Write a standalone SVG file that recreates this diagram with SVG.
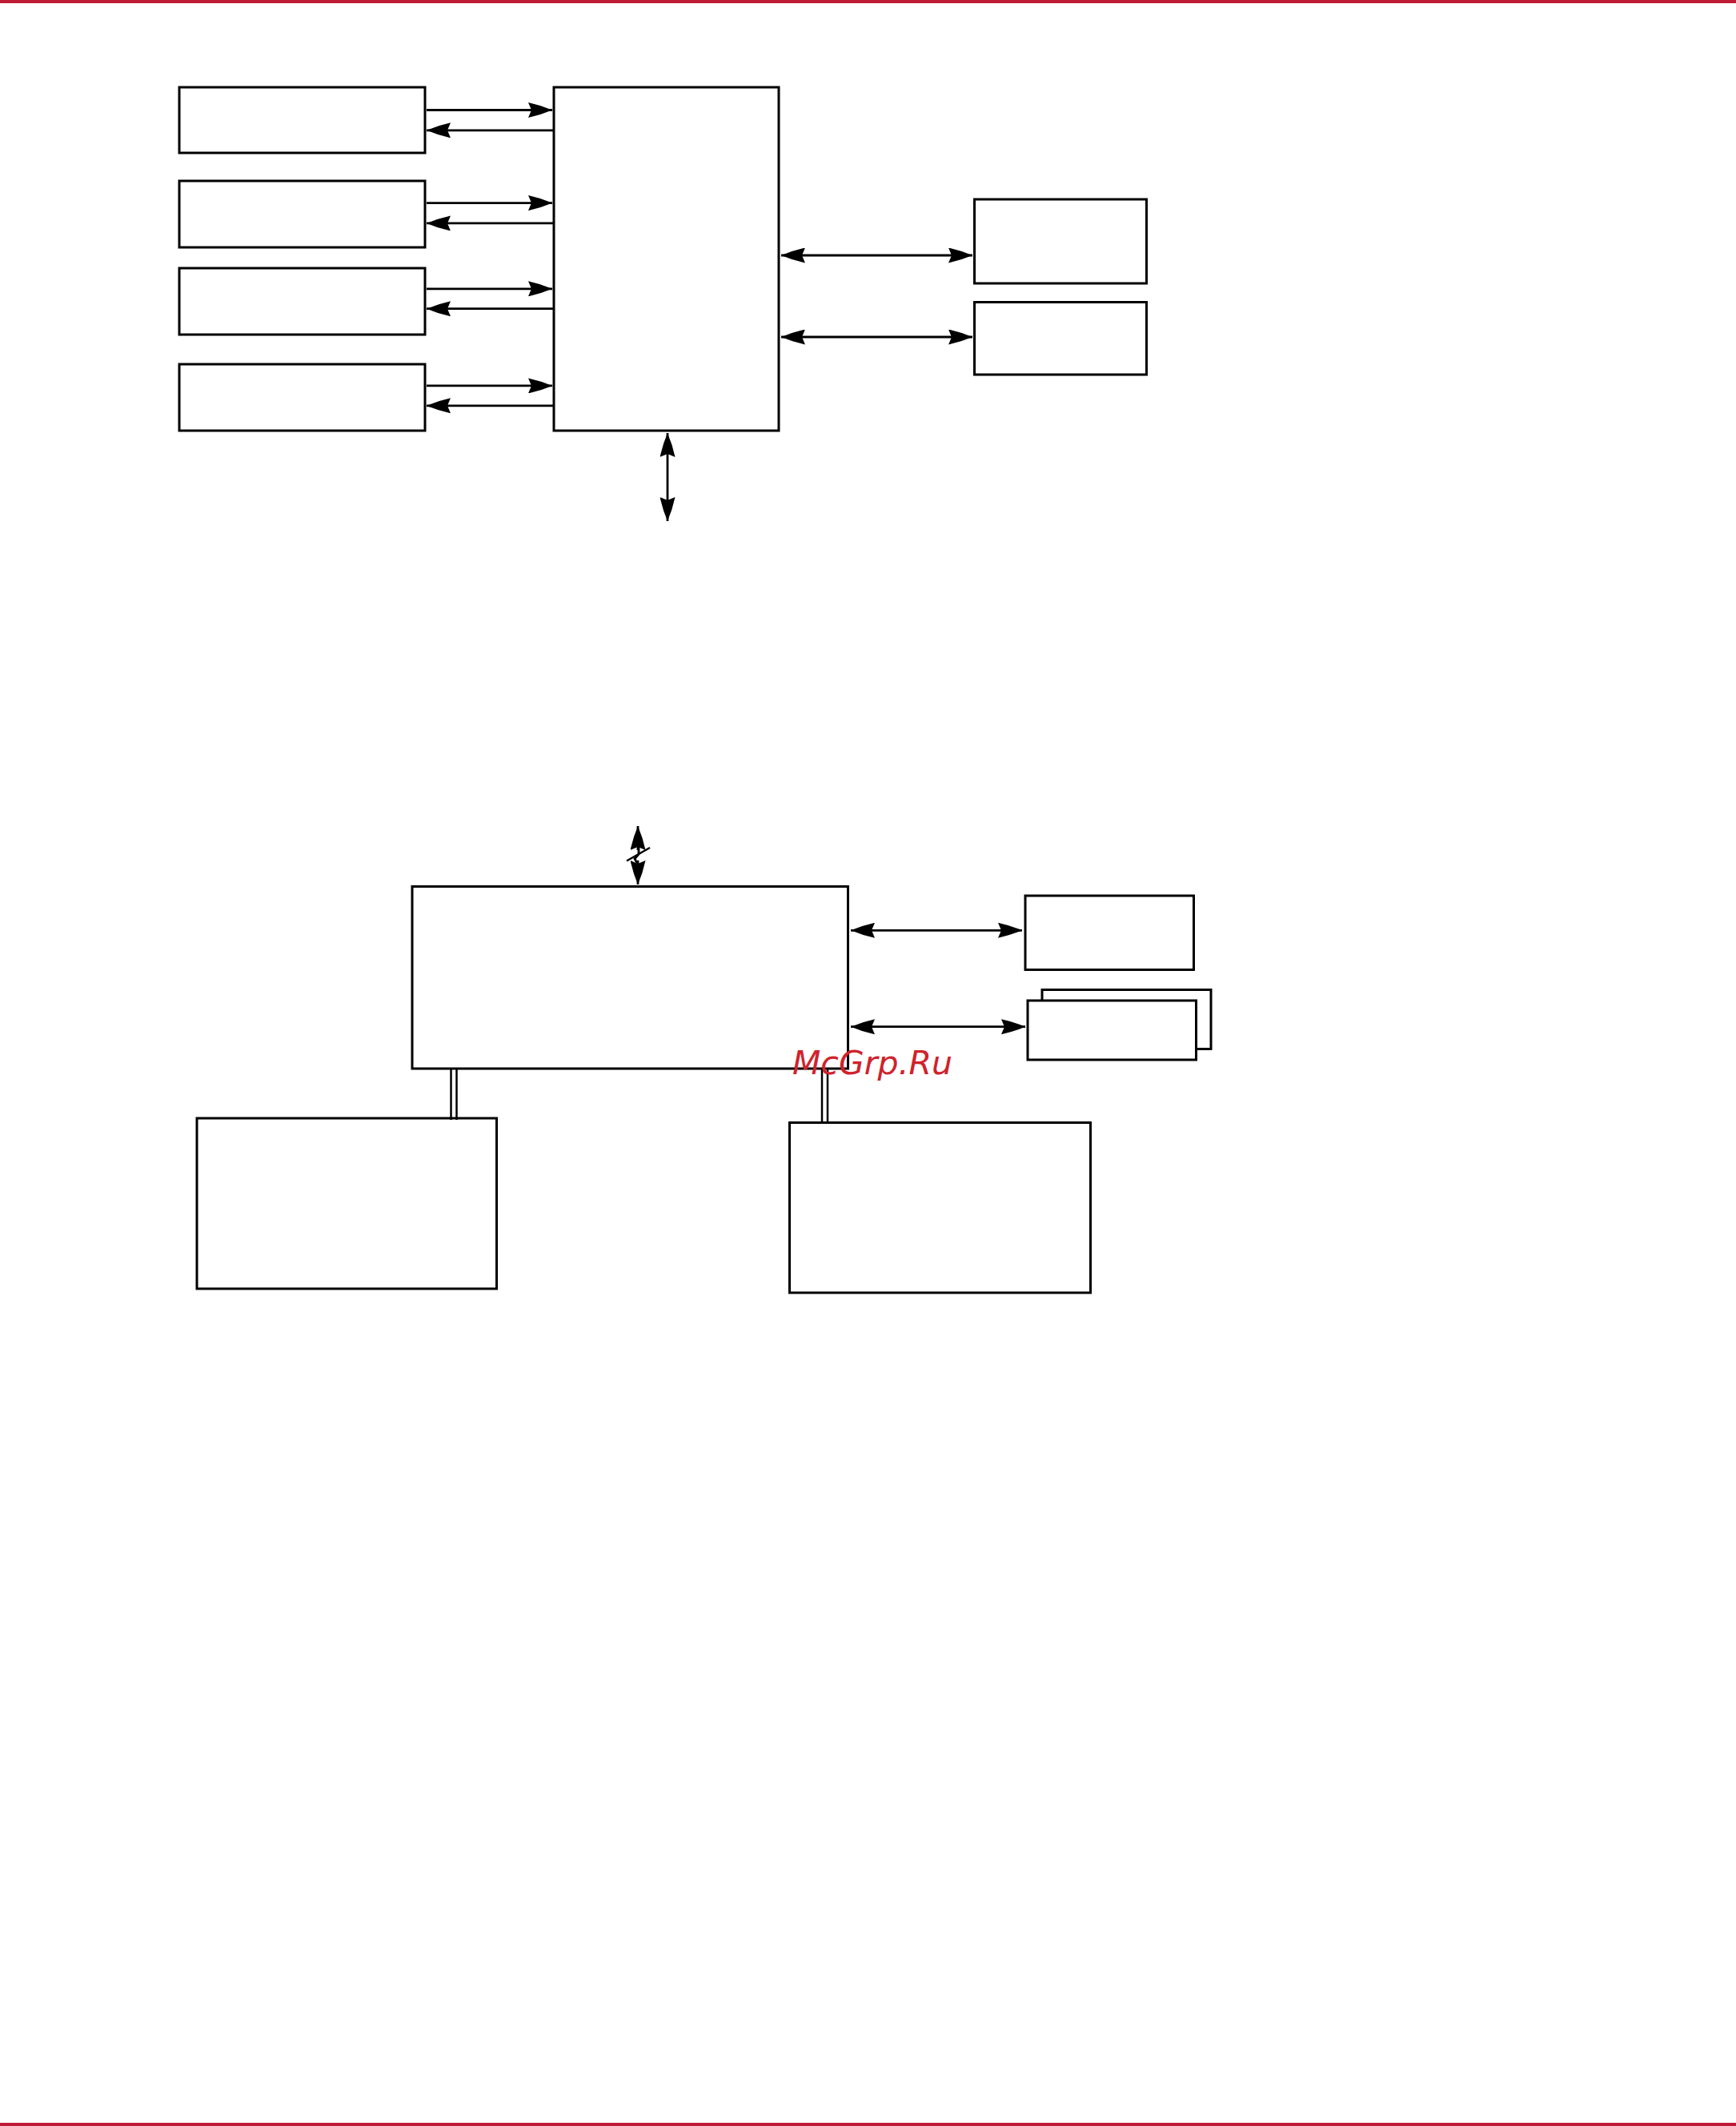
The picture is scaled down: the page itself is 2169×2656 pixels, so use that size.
<svg xmlns="http://www.w3.org/2000/svg" width="2169" height="2656" viewBox="0 0 2169 2656">
<style>
.box{fill:#fff;stroke:#000;stroke-width:3}
.ln{fill:none;stroke:#000;stroke-width:2.8}
.dbl{fill:none;stroke:#000;stroke-width:2.5}
.band{fill:#be1a35}
.wm{font-family:"DejaVu Sans",sans-serif;font-style:italic;font-size:41px;fill:#d0222b}
</style>
<defs>
<marker id="ah" viewBox="0 0 30 19" refX="30" refY="9.5" markerWidth="30" markerHeight="19" markerUnits="userSpaceOnUse" orient="auto-start-reverse">
<path d="M0,0 Q16,3.5 30,9.5 Q16,15.5 0,19 L4,9.5 Z" fill="#000"/>
</marker>
</defs>
<rect class="band" x="0" y="0" width="2169" height="4"/>
<rect class="band" x="0" y="2652" width="2169" height="4"/>

<g id="top-section">
<g id="left-box-1"><rect class="box" x="224" y="109" width="307" height="82"/></g>
<g id="left-box-2"><rect class="box" x="224" y="226" width="307" height="83"/></g>
<g id="left-box-3"><rect class="box" x="224" y="335" width="307" height="83"/></g>
<g id="left-box-4"><rect class="box" x="224" y="455" width="307" height="83"/></g>
<g id="main-box-top"><rect class="box" x="692" y="109" width="281" height="429"/></g>
<g id="right-box-1"><rect class="box" x="1217.5" y="249" width="215" height="105"/></g>
<g id="right-box-2"><rect class="box" x="1217.5" y="377.5" width="215" height="90.5"/></g>
</g>

<g id="bottom-section">
<g id="main-box-bottom"><rect class="box" x="515" y="1107.5" width="544.5" height="227.5"/></g>
<g id="right-box-a"><rect class="box" x="1281" y="1119" width="210.5" height="92.5"/></g>
<g id="right-box-stack">
<rect class="box" x="1302" y="1236.5" width="211" height="74"/>
<rect class="box" x="1284" y="1250" width="210.5" height="74"/>
</g>
<g id="lower-left-box"><rect class="box" x="246" y="1397" width="374.5" height="213"/></g>
<g id="lower-right-box"><rect class="box" x="986.5" y="1402.5" width="376" height="212.5"/></g>
</g>

<g id="connectors">
<line class="ln" x1="533" y1="137.5" x2="690" y2="137.5" marker-end="url(#ah)"/>
<line class="ln" x1="691" y1="162.8" x2="533" y2="162.8" marker-end="url(#ah)"/>
<line class="ln" x1="533" y1="253.6" x2="690" y2="253.6" marker-end="url(#ah)"/>
<line class="ln" x1="691" y1="278.9" x2="533" y2="278.9" marker-end="url(#ah)"/>
<line class="ln" x1="533" y1="360.8" x2="690" y2="360.8" marker-end="url(#ah)"/>
<line class="ln" x1="691" y1="385.7" x2="533" y2="385.7" marker-end="url(#ah)"/>
<line class="ln" x1="533" y1="481.9" x2="690" y2="481.9" marker-end="url(#ah)"/>
<line class="ln" x1="691" y1="506.8" x2="533" y2="506.8" marker-end="url(#ah)"/>

<line class="ln" x1="976" y1="319" x2="1215" y2="319" marker-start="url(#ah)" marker-end="url(#ah)"/>
<line class="ln" x1="976" y1="421" x2="1215" y2="421" marker-start="url(#ah)" marker-end="url(#ah)"/>
<line class="ln" x1="834" y1="541" x2="834" y2="651" marker-start="url(#ah)" marker-end="url(#ah)"/>

<line class="ln" x1="797" y1="1032" x2="797" y2="1062" marker-start="url(#ah)"/>
<path class="ln" d="M798,1058 L798,1067 L793,1073 L796,1078"/>
<line class="ln" x1="797" y1="1075" x2="797" y2="1105" marker-end="url(#ah)"/>
<line x1="783" y1="1075.5" x2="812" y2="1059" stroke="#000" stroke-width="2.5"/>

<line class="ln" x1="1063" y1="1162.3" x2="1277" y2="1162.3" marker-start="url(#ah)" marker-end="url(#ah)"/>
<line class="ln" x1="1063" y1="1282.7" x2="1281" y2="1282.7" marker-start="url(#ah)" marker-end="url(#ah)"/>

<line class="dbl" x1="563.5" y1="1336" x2="563.5" y2="1399"/>
<line class="dbl" x1="570.5" y1="1336" x2="570.5" y2="1399"/>
<line class="dbl" x1="1027" y1="1336" x2="1027" y2="1403"/>
<line class="dbl" x1="1034" y1="1336" x2="1034" y2="1403"/>
</g>

<text class="wm" x="990" y="1342">McGrp.Ru</text>
</svg>
